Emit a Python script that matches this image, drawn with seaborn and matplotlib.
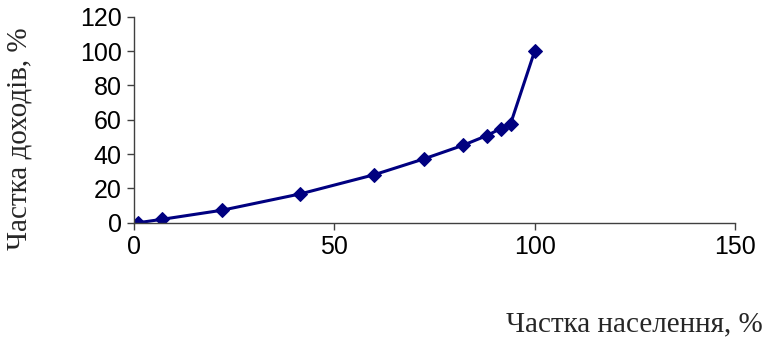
import matplotlib.pyplot as plt
import pandas as pd
import seaborn as sns

population_share = [1, 7, 22, 41.5, 60, 72.5, 82, 88, 91.5, 94, 100]
income_share = [0, 2, 7.3, 16.8, 28, 37.3, 45, 50.7, 54.8, 57.7, 100]

x_ticks = [0, 50, 100, 150]
y_ticks = [0, 20, 40, 60, 80, 100, 120]

sns.set_style("white")
plt.rcParams["font.family"] = ["Liberation Sans", "DejaVu Sans"]

df = pd.DataFrame({"population": population_share, "income": income_share})

fig = plt.figure(figsize=(7.66, 3.38), dpi=100)
ax = fig.add_axes([0.175, 0.341, 0.7845, 0.6096])

sns.lineplot(
    data=df,
    x="population",
    y="income",
    ax=ax,
    color="#000080",
    linewidth=2.2,
    marker="D",
    markersize=7.5,
    markeredgecolor="#000080",
    sort=False,
)

ax.set_xlim(0, 150)
ax.set_ylim(0, 120)
ax.set_xticks(x_ticks)
ax.set_yticks(y_ticks)
ax.tick_params(axis="both", labelsize=18, length=5, width=1, color="#404040",
               labelcolor="black", direction="out", bottom=True, left=True, pad=4)
ax.set_xlabel("")
ax.set_ylabel("")
for side in ["top", "right"]:
    ax.spines[side].set_visible(False)
for side in ["left", "bottom"]:
    ax.spines[side].set_color("#404040")
    ax.spines[side].set_linewidth(1)

serif = ["Liberation Serif", "DejaVu Serif"]
fig.text(0.996, 0.04, "Частка населення, %", ha="right", va="center",
         fontsize=21, family=serif)
fig.text(0.026, 0.59, "Частка доходів, %", ha="center", va="center",
         rotation=90, fontsize=21, family=serif)

fig.savefig("out.png", dpi=100)
